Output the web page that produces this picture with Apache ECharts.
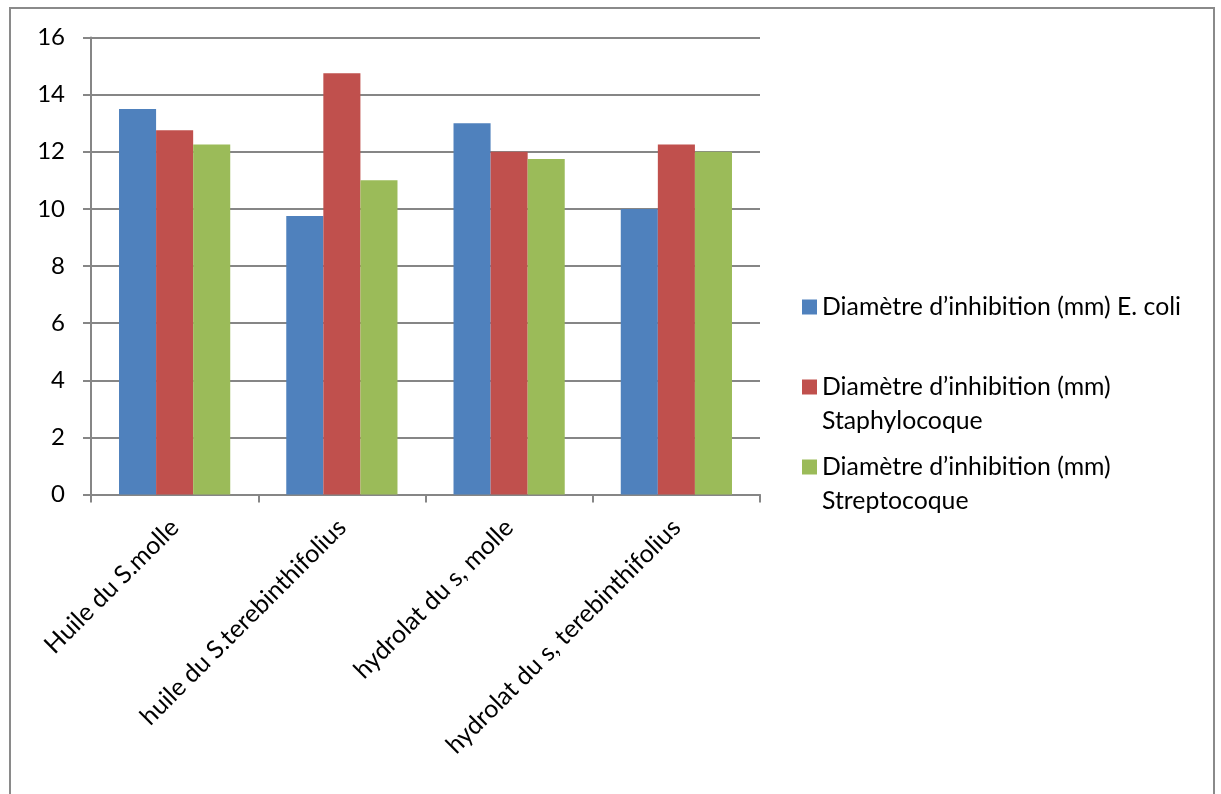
<!DOCTYPE html>
<html>
<head>
<meta charset="utf-8">
<script src="https://cdn.jsdelivr.net/npm/echarts@6/dist/echarts.min.js"></script>
<style>html,body{margin:0;padding:0;background:#fff}#c{width:1221px;height:794px}</style>
</head>
<body>
<div id="c"></div>
<script>
const categories = ['Huile du S.molle', 'huile du S.terebinthifolius', 'hydrolat du s, molle', 'hydrolat du s, terebinthifolius'];
const seriesNames = ['Diamètre d’inhibition (mm) E. coli', 'Diamètre d’inhibition (mm) Staphylocoque', 'Diamètre d’inhibition (mm) Streptocoque'];
const ecoli = [13.5, 9.75, 13, 10];
const staph = [12.75, 14.75, 12, 12.25];
const strep = [12.25, 11, 11.75, 12];
const yTicks = { min: 0, max: 16, interval: 2 };

const colors = ['#4F81BD', '#C0504D', '#9BBB59'];
const FONT = 'Lato';
const chart = echarts.init(document.getElementById('c'));
const values = [ecoli, staph, strep];
const legendTexts = [
  'Diamètre d’inhibition (mm) E. coli',
  '{s| }\nDiamètre d’inhibition (mm)\nStaphylocoque',
  '{s| }\nDiamètre d’inhibition (mm)\nStreptocoque'
];
const legendTops = [290, 336, 416];
chart.setOption({
  animation: false,
  color: colors,
  graphic: [{
    type: 'rect', shape: { x: 10, y: 8, width: 1204, height: 900 },
    style: { fill: 'none', stroke: '#8a8a8a', lineWidth: 2 }, silent: true
  }],
  grid: { left: 91, right: 461, top: 37.5, bottom: 299.5, containLabel: false },
  legend: seriesNames.map((n, i) => ({
    data: [n], orient: 'vertical', left: 802, top: legendTops[i], padding: 0,
    itemWidth: 15, itemHeight: 15, itemGap: 0, icon: 'rect',
    formatter: () => legendTexts[i],
    textStyle: { fontFamily: FONT, fontSize: 24.8, color: '#000', lineHeight: 34,
      rich: { s: { fontSize: 24.8, lineHeight: 34 } } }
  })),
  xAxis: {
    type: 'category', data: categories,
    axisLine: { lineStyle: { color: '#868686', width: 2 } },
    axisTick: { show: true, length: 8, lineStyle: { color: '#868686', width: 2 } },
    axisLabel: { rotate: 45, interval: 0, margin: 29, color: '#000', fontFamily: FONT, fontSize: 25 }
  },
  yAxis: {
    type: 'value', min: yTicks.min, max: yTicks.max, interval: yTicks.interval,
    axisLine: { show: true, lineStyle: { color: '#868686', width: 2 } },
    axisTick: { show: true, length: 8, lineStyle: { color: '#868686', width: 2 } },
    splitLine: { lineStyle: { color: '#868686', width: 2 } },
    axisLabel: { margin: 26, color: '#000', fontFamily: FONT, fontSize: 24 }
  },
  series: seriesNames.map((n, i) => ({
    name: n, type: 'bar', data: values[i], barGap: '0%', barCategoryGap: '33.5%',
    itemStyle: { color: colors[i] }
  }))
});
</script>
</body>
</html>
